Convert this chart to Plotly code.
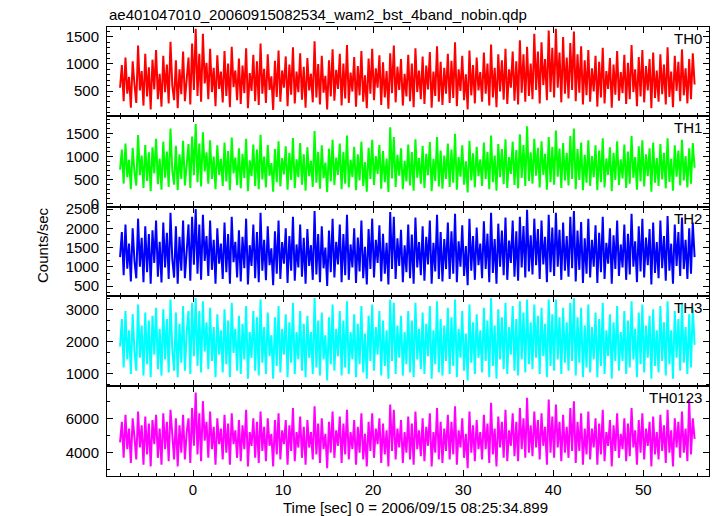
import plotly.graph_objects as go

# Light-curve bins (time of first bin, bin width in seconds)
t_start = -8.1
bin_width = 0.2

TH0 = [560, 980, 310, 1120, 450, 760, 190, 1050, 620, 280, 1340, 510, 870, 230, 1190, 400, 940, 160, 1080, 530,
       1260, 350, 820, 210, 1150, 480, 990, 270, 1410, 600, 330, 1070, 180, 900, 440, 1230, 310, 760, 1120, 250,
       1380, 520, 1650, 410, 1190, 300, 1560, 640, 1020, 350, 1280, 480, 930, 220, 1160, 540, 860, 290, 1240, 410,
       1010, 200, 1320, 570, 880, 330, 1100, 260, 970, 460, 1290, 180, 830, 500, 1170, 310, 1050, 240, 1380, 450,
       910, 280, 1180, 520, 770, 150, 1060, 390, 1250, 300, 880, 560, 1140, 220, 990, 430, 1310, 270, 860, 480,
       1200, 340, 950, 190, 1110, 510, 820, 290, 1420, 380, 1000, 250, 1150, 470, 780, 160, 1070, 400, 1270, 320,
       890, 540, 1190, 230, 1010, 360, 1350, 280, 840, 490, 1130, 210, 960, 420, 1240, 300, 790, 180, 1100, 450,
       1280, 330, 920, 560, 1160, 240, 1030, 380, 870, 170, 1200, 460, 1340, 290, 950, 520, 1090, 230, 820, 400,
       1170, 310, 1010, 200, 1290, 480, 880, 350, 1140, 260, 970, 530, 1220, 190, 860, 410, 1330, 300, 1040, 240,
       930, 450, 1190, 280, 1060, 370, 1400, 220, 900, 500, 1150, 330, 810, 160, 1250, 420, 980, 270, 1120, 510,
       850, 300, 1210, 450, 1010, 230, 1360, 380, 930, 200, 1180, 490, 1070, 340, 1280, 260, 900, 560, 1230, 320,
       1050, 250, 1440, 470, 1180, 300, 1320, 410, 1010, 350, 1560, 520, 1230, 270, 1400, 610, 1090, 330, 1620, 480,
       1300, 380, 1650, 560, 1210, 290, 1500, 450, 1120, 360, 1390, 520, 1600, 310, 1180, 470, 1330, 250, 1070, 420,
       1260, 300, 920, 490, 1150, 210, 1040, 380, 1300, 270, 870, 540, 1110, 190, 990, 430, 1240, 320, 850, 460,
       1170, 260, 1020, 350, 1350, 480, 900, 220, 1130, 400, 1260, 290, 960, 510, 1090, 180, 1210, 370, 880, 300,
       1180, 440, 990, 250, 1310, 390, 860, 200, 1150, 500, 1040, 310, 1270, 420, 920, 270, 1090, 350, 1200, 620]

TH1 = [720, 1150, 420, 1280, 560, 930, 300, 1190, 680, 380, 1460, 600, 1020, 330, 1250, 480, 1090, 260, 1200, 640,
       1380, 410, 960, 290, 1320, 550, 1110, 350, 1600, 700, 400, 1230, 280, 1050, 520, 1340, 380, 900, 1270, 330,
       1430, 600, 1700, 450, 1280, 360, 1520, 680, 1090, 420, 1350, 520, 1000, 300, 1240, 610, 950, 370, 1300, 470,
       1120, 280, 1410, 640, 980, 390, 1180, 320, 1060, 540, 1380, 260, 920, 580, 1260, 370, 1150, 300, 1470, 510,
       1000, 340, 1250, 590, 860, 250, 1160, 450, 1330, 360, 970, 620, 1220, 290, 1080, 500, 1400, 330, 940, 560,
       1290, 400, 1050, 270, 1200, 580, 910, 350, 1550, 440, 1100, 310, 1240, 540, 870, 240, 1170, 470, 1360, 390,
       980, 610, 1280, 300, 1100, 420, 1450, 340, 930, 560, 1210, 280, 1050, 490, 1320, 370, 880, 250, 1190, 520,
       1360, 390, 1010, 630, 1250, 310, 1120, 450, 960, 240, 1630, 530, 1420, 350, 1040, 590, 1180, 300, 910, 470,
       1260, 380, 1100, 270, 1370, 550, 970, 420, 1230, 330, 1060, 600, 1310, 260, 950, 480, 1420, 360, 1130, 310,
       1020, 520, 1280, 350, 1150, 440, 1490, 290, 990, 570, 1240, 400, 900, 230, 1340, 490, 1070, 340, 1210, 580,
       940, 370, 1300, 520, 1100, 300, 1450, 450, 1020, 270, 1270, 560, 1160, 410, 1370, 330, 990, 630, 1320, 390,
       1140, 320, 1480, 540, 1250, 370, 1650, 480, 1090, 420, 1380, 590, 1190, 340, 1330, 610, 1060, 290, 1420, 450,
       1210, 400, 1560, 570, 1170, 330, 1290, 490, 1080, 380, 1440, 520, 1600, 300, 1160, 500, 1300, 280, 1040, 440,
       1350, 370, 1010, 560, 1240, 280, 1130, 450, 1390, 340, 960, 610, 1200, 260, 1080, 500, 1330, 390, 940, 530,
       1260, 330, 1110, 420, 1440, 550, 990, 290, 1220, 470, 1350, 360, 1050, 580, 1180, 250, 1300, 440, 970, 370,
       1270, 510, 1080, 320, 1390, 460, 950, 270, 1240, 570, 1130, 380, 1360, 490, 1010, 340, 1180, 420, 1290, 760]

TH2 = [1250, 1900, 780, 2100, 950, 1600, 620, 2000, 1150, 700, 2250, 1000, 1750, 600, 2050, 860, 1850, 560, 1950, 1100,
       2200, 740, 1650, 590, 2150, 980, 1880, 680, 2400, 1200, 720, 2050, 560, 1780, 900, 2200, 700, 1550, 2100, 640,
       2300, 1050, 2500, 820, 2100, 660, 2350, 1150, 1800, 760, 2200, 920, 1700, 560, 2000, 1080, 1600, 680, 2150, 860,
       1850, 560, 2300, 1120, 1650, 720, 1950, 620, 1780, 960, 2250, 540, 1560, 1020, 2100, 700, 1900, 600, 2400, 900,
       1700, 650, 2050, 1040, 1480, 520, 1920, 820, 2200, 680, 1640, 1080, 2000, 580, 1800, 900, 2300, 640, 1580, 980,
       2100, 740, 1750, 560, 1980, 1020, 1560, 660, 2450, 800, 1850, 600, 2050, 960, 1500, 500, 1940, 860, 2250, 720,
       1650, 1060, 2100, 600, 1850, 780, 2350, 660, 1580, 980, 2000, 580, 1760, 880, 2200, 700, 1520, 540, 1980, 940,
       2250, 720, 1700, 1100, 2080, 620, 1860, 820, 1620, 540, 2420, 940, 2300, 680, 1740, 1020, 1960, 600, 1560, 860,
       2100, 700, 1840, 560, 2280, 980, 1640, 780, 2050, 640, 1780, 1060, 2200, 560, 1620, 880, 2350, 680, 1900, 620,
       1720, 940, 2150, 680, 1920, 820, 2380, 600, 1660, 1000, 2080, 760, 1540, 520, 2250, 900, 1800, 660, 2020, 1040,
       1600, 700, 2180, 940, 1860, 600, 2400, 840, 1720, 560, 2120, 1000, 1940, 780, 2280, 660, 1680, 1100, 2200, 740,
       1920, 640, 2300, 980, 2060, 720, 2480, 880, 1820, 800, 2250, 1040, 1980, 680, 2200, 1060, 1780, 600, 2350, 860,
       2020, 760, 2400, 1000, 1960, 660, 2150, 900, 1800, 740, 2300, 960, 2450, 620, 1940, 920, 2160, 580, 1740, 820,
       2250, 720, 1700, 1000, 2080, 580, 1880, 860, 2300, 680, 1620, 1080, 2000, 560, 1820, 940, 2200, 760, 1580, 980,
       2100, 660, 1860, 800, 2380, 1000, 1660, 600, 2050, 880, 2250, 720, 1760, 1040, 1980, 540, 2150, 840, 1640, 700,
       2200, 960, 1800, 640, 2320, 900, 1600, 560, 2100, 1020, 1900, 760, 2280, 940, 1700, 680, 2000, 820, 2150, 1250]

TH3 = [1850, 2700, 1200, 2950, 1450, 2350, 1000, 2850, 1700, 1100, 3150, 1500, 2500, 950, 2900, 1300, 2650, 900, 2800, 1600,
       3050, 1150, 2400, 950, 3000, 1450, 2700, 1050, 3300, 1750, 1100, 2900, 900, 2550, 1350, 3100, 1100, 2300, 2950, 1000,
       3200, 1550, 3350, 1250, 2950, 1050, 3250, 1700, 2600, 1150, 3050, 1400, 2450, 900, 2850, 1600, 2350, 1050, 3000, 1300,
       2650, 900, 3200, 1650, 2400, 1100, 2800, 1000, 2550, 1450, 3100, 850, 2300, 1500, 2950, 1100, 2750, 950, 3300, 1350,
       2450, 1000, 2900, 1550, 2200, 850, 2750, 1250, 3100, 1050, 2400, 1600, 2850, 900, 2600, 1350, 3200, 1000, 2300, 1450,
       2950, 1100, 2550, 900, 2800, 1500, 2300, 1000, 3350, 1200, 2650, 950, 2900, 1450, 2200, 800, 2750, 1300, 3150, 1100,
       2400, 1550, 2950, 950, 2650, 1200, 3250, 1000, 2300, 1450, 2850, 900, 2550, 1300, 3100, 1050, 2250, 850, 2800, 1400,
       3150, 1100, 2450, 1600, 2950, 950, 2650, 1250, 2350, 850, 3300, 1400, 3200, 1000, 2500, 1500, 2800, 950, 2300, 1300,
       2950, 1050, 2650, 900, 3200, 1450, 2400, 1150, 2900, 1000, 2550, 1550, 3100, 850, 2350, 1300, 3250, 1050, 2700, 950,
       2500, 1400, 3050, 1000, 2750, 1250, 3300, 900, 2400, 1500, 2950, 1100, 2250, 800, 3150, 1350, 2600, 1000, 2850, 1500,
       2350, 1050, 3050, 1400, 2650, 900, 3350, 1250, 2500, 850, 3000, 1450, 2750, 1150, 3200, 1000, 2450, 1600, 3100, 1100,
       2700, 950, 3250, 1450, 2900, 1050, 3300, 1300, 2600, 1150, 3150, 1500, 2800, 1000, 3050, 1550, 2550, 900, 3300, 1250,
       2850, 1100, 3300, 1450, 2750, 1000, 3050, 1350, 2600, 1100, 3200, 1400, 3350, 950, 2750, 1350, 3050, 900, 2500, 1200,
       3150, 1050, 2450, 1450, 2900, 900, 2700, 1250, 3200, 1000, 2350, 1550, 2850, 850, 2600, 1400, 3100, 1100, 2300, 1400,
       2950, 1000, 2650, 1200, 3250, 1450, 2400, 900, 2900, 1300, 3150, 1050, 2500, 1500, 2800, 850, 3000, 1250, 2350, 1050,
       3100, 1400, 2600, 950, 3250, 1300, 2350, 850, 2950, 1500, 2700, 1100, 3200, 1350, 2450, 1000, 2850, 1200, 3050, 1900]

TH0123 = [4600, 5800, 3700, 6200, 4200, 5400, 3400, 6000, 4900, 3600, 6400, 4300, 5600, 3300, 6100, 3900, 5700, 3200, 5900, 4500,
          6200, 3700, 5400, 3300, 6300, 4200, 5800, 3500, 6500, 4800, 3600, 6000, 3200, 5600, 4000, 6200, 3600, 5200, 6000, 3400,
          6600, 4400, 7500, 3900, 6300, 3500, 7000, 4700, 5800, 3700, 6400, 4200, 5500, 3300, 6000, 4500, 5400, 3600, 6200, 4000,
          5700, 3300, 6300, 4500, 5300, 3700, 5900, 3500, 5600, 4200, 6500, 3200, 5200, 4400, 6000, 3700, 5800, 3400, 6400, 4100,
          5500, 3500, 6000, 4400, 5100, 3200, 5900, 3900, 6300, 3600, 5300, 4500, 5900, 3300, 5600, 4100, 6600, 3500, 5200, 4300,
          6100, 3700, 5500, 3300, 5900, 4300, 5200, 3600, 6700, 3900, 5700, 3400, 6000, 4200, 5100, 3100, 5800, 4000, 6400, 3700,
          5300, 4400, 6100, 3400, 5700, 3900, 6500, 3600, 5200, 4200, 5900, 3300, 5500, 4000, 6300, 3600, 5100, 3200, 5800, 4100,
          6300, 3700, 5400, 4500, 6000, 3400, 5700, 3900, 5300, 3200, 6800, 4100, 6500, 3600, 5400, 4300, 5900, 3400, 5200, 4000,
          6100, 3600, 5700, 3300, 6400, 4200, 5300, 3800, 6000, 3500, 5500, 4400, 6300, 3200, 5200, 4000, 6600, 3600, 5800, 3400,
          5400, 4100, 6200, 3600, 5800, 3900, 6700, 3300, 5300, 4300, 6000, 3700, 5100, 3100, 6400, 4000, 5600, 3500, 5900, 4200,
          5200, 3600, 6200, 4200, 5700, 3400, 6900, 3900, 5400, 3200, 6100, 4300, 5800, 3700, 6500, 3500, 5300, 4400, 6300, 3800,
          5800, 3500, 6600, 4200, 6000, 3700, 7200, 4000, 5600, 3800, 6400, 4300, 5900, 3600, 6300, 4400, 5500, 3300, 7100, 4000,
          6100, 3700, 6800, 4300, 5800, 3500, 6200, 4000, 5500, 3700, 6600, 4100, 7000, 3400, 5800, 4100, 6300, 3300, 5400, 3900,
          6400, 3600, 5400, 4300, 6000, 3300, 5700, 3900, 6500, 3500, 5200, 4400, 5900, 3200, 5600, 4100, 6300, 3700, 5100, 4200,
          6000, 3500, 5700, 3800, 6600, 4300, 5300, 3300, 5900, 4000, 6300, 3600, 5400, 4400, 5800, 3200, 6100, 3900, 5200, 3600,
          6200, 4100, 5600, 3400, 6500, 4000, 5300, 3200, 6000, 4300, 5800, 3700, 6400, 4000, 5400, 3500, 7100, 3900, 6000, 4800]

series_names = ["TH0", "TH1", "TH2", "TH3", "TH0123"]
series_values = [TH0, TH1, TH2, TH3, TH0123]
series_colors = ["#ff0000", "#00ff00", "#0000ff", "#00ffff", "#ff00ff"]
y_ranges = [[37, 1685], [-80, 1870], [240, 2553], [628, 3412], [2641, 7884]]
y_ticks = [[500, 1000, 1500], [0, 500, 1000, 1500], [500, 1000, 1500, 2000, 2500],
           [1000, 2000, 3000], [4000, 6000]]
y_minor = [100, 100, 500 / 3, 1000 / 3, 1000]
x_ticks = [0, 10, 20, 30, 40, 50]

title_text = "ae401047010_20060915082534_wam2_bst_4band_nobin.qdp"
x_title = "Time [sec] 0 = 2006/09/15 08:25:34.899"
y_title = "Counts/sec"

# layout geometry (pixels)
W, H = 717, 516
ml, mr, mt, mb = 107, 8, 27, 40
plot_h = H - mt - mb
plot_w = W - ml - mr
edges_px = [27, 116, 207, 296, 386, 476]


def frac(ypx):
    return (H - mb - ypx) / plot_h


FONT = "Liberation Sans, Arial, Helvetica, sans-serif"

fig = go.Figure()
layout = dict(
    width=W, height=H,
    margin=dict(l=ml, r=mr, t=mt, b=mb, autoexpand=False),
    paper_bgcolor="white", plot_bgcolor="white",
    showlegend=False,
    font=dict(family=FONT, size=15, color="black"),
    annotations=[],
)

for k, (name, vals, col) in enumerate(zip(series_names, series_values, series_colors)):
    n = len(vals)
    times = [t_start + i * bin_width for i in range(n)]
    ax = "" if k == 0 else str(k + 1)
    fig.add_trace(go.Scatter(
        x=times, y=vals, mode="lines",
        line=dict(color=col, width=2),
        xaxis="x" + ax, yaxis="y" + ax, hoverinfo="skip",
    ))
    top = edges_px[k]
    bot = edges_px[k + 1]
    dom = [frac(bot), frac(top)]
    last = (k == 4)
    layout["xaxis" + ax] = dict(
        domain=[0, 1], anchor="y" + ax, range=[-9.55, 57.3], automargin=False,
        showline=True, linecolor="black", linewidth=1, mirror="ticks",
        ticks="inside", ticklen=6, tickcolor="black", tickwidth=1,
        tickvals=x_ticks, showticklabels=last, showgrid=False, zeroline=False,
        minor=dict(ticks="inside", ticklen=3, dtick=2, tick0=0, tickcolor="black", showgrid=False),
        tickfont=dict(size=15), ticklabelstandoff=0,
        **({"matches": "x"} if k > 0 else {}),
    )
    layout["yaxis" + ax] = dict(
        domain=dom, anchor="x" + ax, range=y_ranges[k], automargin=False,
        showline=True, linecolor="black", linewidth=1, mirror="ticks",
        ticks="inside", ticklen=6, tickcolor="black", tickwidth=1,
        tickvals=y_ticks[k], showgrid=False, zeroline=False,
        minor=dict(ticks="inside", ticklen=3, dtick=y_minor[k], tick0=0, tickcolor="black", showgrid=False),
        tickfont=dict(size=15), ticklabelstandoff=4,
    )
    layout["annotations"].append(dict(
        text=name, xref="paper", yref="paper",
        x=(704 - ml) / plot_w, y=frac(top + 11),
        xanchor="right", yanchor="middle", showarrow=False,
        font=dict(size=15, color="black"),
    ))

layout["annotations"].append(dict(
    text=title_text, xref="paper", yref="paper", x=0, y=frac(14),
    xanchor="left", yanchor="middle", showarrow=False, font=dict(size=15),
))
layout["annotations"].append(dict(
    text=x_title, xref="paper", yref="paper", x=(415 - ml) / plot_w, y=frac(507),
    xanchor="center", yanchor="middle", showarrow=False, font=dict(size=15),
))
layout["annotations"].append(dict(
    text=y_title, xref="paper", yref="paper", x=(42 - ml) / plot_w, y=frac(245),
    xanchor="center", yanchor="middle", textangle=-90, showarrow=False, font=dict(size=15),
))

fig.update_layout(**layout)
fig.write_html(
    "out.html",
    config={"displayModeBar": False},
    post_script="document.body.style.margin='0';document.body.style.overflow='hidden';",
)
